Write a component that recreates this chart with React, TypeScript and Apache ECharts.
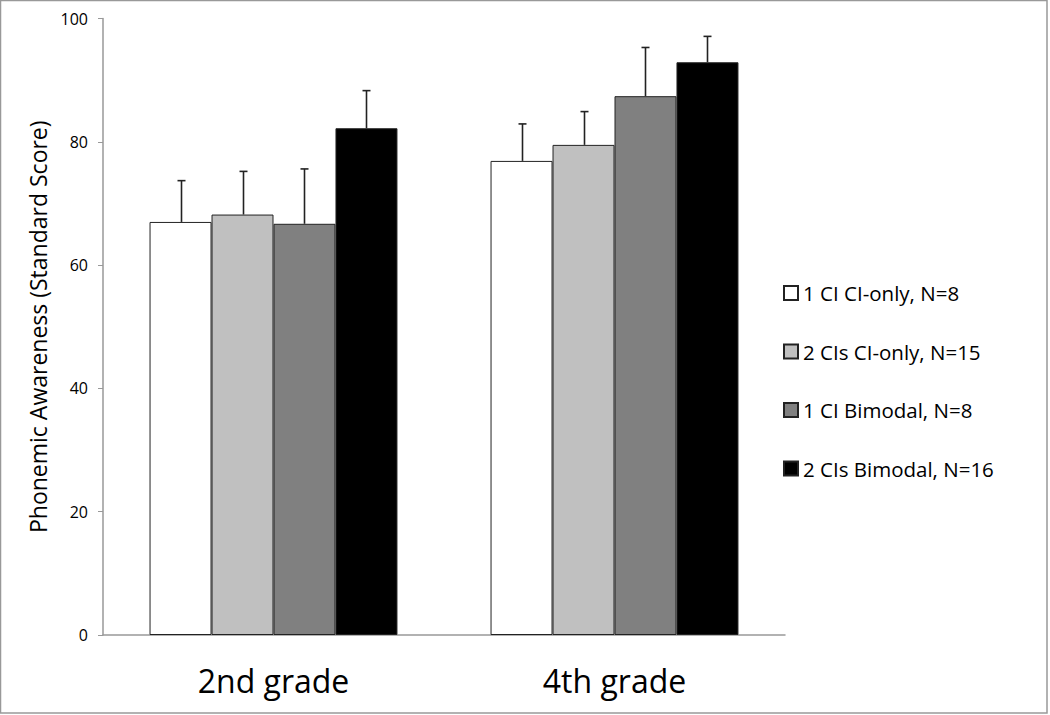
import React, { useEffect, useRef } from "react";
import * as echarts from "echarts";

const categories = ["2nd grade", "4th grade"];
const seriesNames = [
  "1 CI CI-only, N=8",
  "2 CIs CI-only, N=15",
  "1 CI Bimodal, N=8",
  "2 CIs Bimodal, N=16",
];
const oneCiOnly = [67.0, 76.9];
const twoCiOnly = [68.2, 79.5];
const oneCiBimodal = [66.7, 87.4];
const twoCiBimodal = [82.2, 92.9];
const oneCiOnlyErr = [6.7, 6.0];
const twoCiOnlyErr = [7.0, 5.4];
const oneCiBimodalErr = [8.9, 7.9];
const twoCiBimodalErr = [6.1, 4.2];
const yTicks = [0, 20, 40, 60, 80, 100];

const FONT = "'Open Sans', 'Noto Sans', sans-serif";
const COLORS = ["#ffffff", "#c0c0c0", "#808080", "#000000"];
const GAP = 0.273;

export default function App() {
  const ref = useRef<HTMLDivElement>(null);
  useEffect(() => {
    if (!ref.current) return;
    const chart = echarts.init(ref.current, undefined, { renderer: "svg" });
    const means = [oneCiOnly, twoCiOnly, oneCiBimodal, twoCiBimodal];
    const errs = [oneCiOnlyErr, twoCiOnlyErr, oneCiBimodalErr, twoCiBimodalErr];
    const n = means.length;

    const barSeries = means.map((vals, k) => ({
      name: seriesNames[k],
      type: "bar",
      data: vals,
      barGap: "0%",
      barCategoryGap: (GAP * 100).toFixed(1) + "%",
      itemStyle: { color: COLORS[k], borderColor: "#222", borderWidth: 1 },
      emphasis: { disabled: true },
    }));

    const errSeries = means.map((vals, k) => ({
      name: seriesNames[k] + " err",
      type: "custom",
      z: 5,
      silent: true,
      data: vals.map((v, i) => [i, v, v + errs[k][i]]),
      encode: { x: 0, y: 2 },
      renderItem: (params: any, api: any) => {
        const ci = api.value(0);
        const top = api.coord([ci, api.value(2)]);
        const base = api.coord([ci, api.value(1)]);
        const band = api.size([1, 0])[0];
        const bw = (band * (1 - GAP)) / n;
        const cx = Math.round(top[0] + (k - (n - 1) / 2) * bw) + 0.5;
        const style = { stroke: "#222", lineWidth: 1.6 };
        return {
          type: "group",
          children: [
            { type: "line", shape: { x1: cx, y1: base[1], x2: cx, y2: top[1] }, style },
            { type: "line", shape: { x1: cx - 4, y1: top[1], x2: cx + 4, y2: top[1] }, style },
          ],
        };
      },
    }));

    chart.setOption({
      animation: false,
      backgroundColor: "#ffffff",
      textStyle: { fontFamily: FONT },
      grid: { left: 103, right: 265, top: 18.5, bottom: 80 },
      legend: {
        orient: "vertical",
        left: 778,
        top: 277,
        itemWidth: 14,
        itemHeight: 14,
        itemGap: 36.5,
        icon: "rect",
        data: seriesNames,
        textStyle: { fontFamily: FONT, fontSize: 20.5, color: "#000", lineHeight: 22 },
        selectedMode: false,
      },
      xAxis: {
        type: "category",
        data: categories,
        axisLine: { lineStyle: { color: "#999", width: 1.5 } },
        axisTick: { show: false },
        axisLabel: { fontFamily: FONT, fontSize: 32, color: "#000", margin: 29 },
      },
      yAxis: {
        type: "value",
        min: yTicks[0],
        max: yTicks[yTicks.length - 1],
        interval: 20,
        name: "Phonemic Awareness (Standard Score)",
        nameLocation: "middle",
        nameGap: 49,
        nameTextStyle: { fontFamily: FONT, fontSize: 23, color: "#000" },
        splitLine: { show: false },
        axisLine: { show: true, lineStyle: { color: "#999", width: 1.5 } },
        axisTick: { show: true, length: 5, lineStyle: { color: "#999" } },
        axisLabel: { fontFamily: FONT, fontSize: 16, color: "#000", margin: 15 },
      },
      graphic: [
        {
          type: "rect",
          silent: true,
          shape: { x: 0.5, y: 0.5, width: 1046.5, height: 712.5 },
          style: { fill: "none", stroke: "#999", lineWidth: 1.5 },
        },
      ],
      series: [...barSeries, ...errSeries],
    });
    return () => chart.dispose();
  }, []);
  return (
    <div
      ref={ref}
      style={{ position: "absolute", left: 0, top: 0, width: 1050, height: 715 }}
    />
  );
}
